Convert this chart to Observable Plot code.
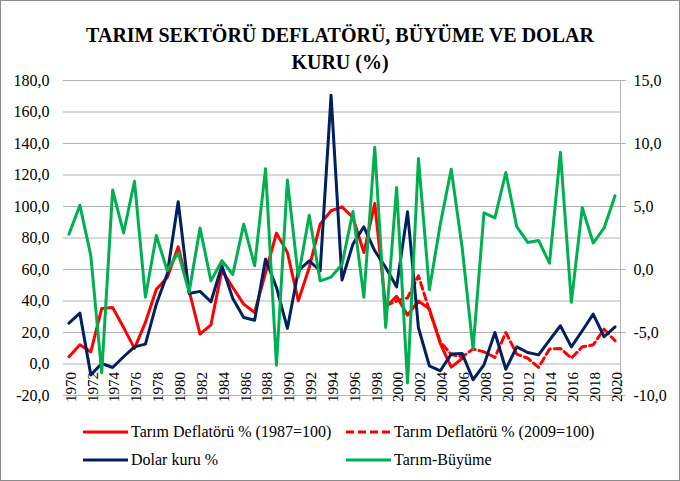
<!DOCTYPE html>
<html>
<head>
<meta charset="utf-8">
<script src="https://cdn.jsdelivr.net/npm/d3@7"></script>
<script src="https://cdn.jsdelivr.net/npm/@observablehq/plot@0.6"></script>
<style>
  html, body { margin: 0; padding: 0; background: #fff; }
  #wrap { position: relative; width: 680px; height: 481px; overflow: hidden; font-family: "Liberation Serif", Tinos, "Times New Roman", Times, "Nimbus Roman", "DejaVu Serif", serif; }
  #border { position: absolute; left: 0; top: 0; width: 680px; height: 481px; box-sizing: border-box; border: 1px solid #8c8c8c; pointer-events: none; }
  #title { height: 72px; box-sizing: border-box; padding-top: 22px; text-align: center; font-weight: bold; font-size: 20px; line-height: 27px; color: #000; }
  #chart svg { display: block; }
  #legend { position: relative; height: 76px; font-size: 16px; color: #000; }
  .item { position: absolute; height: 20px; line-height: 20px; white-space: nowrap; display: flex; align-items: center; }
  .item svg { margin-right: 3px; }
</style>
</head>
<body>
<div id="wrap">
  <div id="title">TARIM SEKTÖRÜ DEFLATÖRÜ, BÜYÜME VE DOLAR<br>KURU (%)</div>
  <div id="chart"></div>
  <div id="legend"></div>
  <div id="border"></div>
</div>
<script>
// ---- Data ----
const years = d3.range(1970, 2021);

const deflator1987Years = d3.range(1970, 2007);
const deflator1987 = [4.6, 12.2, 7.7, 35.3, 35.9, 23.2, 9.9, 26.4, 47.5, 54.9,
  74.4, 46.5, 19.0, 24.9, 59.6, 48.6, 38.0, 32.7, 58.0, 83.1,
  70.8, 40.1, 61.3, 88.8, 97.3, 99.8, 93.0, 70.8, 101.9, 36.0,
  43.0, 31.0, 40.0, 35.0, 13.0, -2.0, 3.5];

const deflator2009Years = d3.range(1999, 2021);
const deflator2009 = [37.0, 40.0, 42.0, 56.0, 34.0, 14.0, 6.0, 4.5, 9.5, 7.7,
  4.2, 20.0, 6.3, 3.7, -2.2, 9.5, 9.9, 3.7, 10.9, 12.2, 22.1, 14.7];

const dolarKuru = [25.9, 32.3, -6.9, 0.3, -2.2, 4.6, 10.9, 12.6, 38.0, 57.1,
  103.0, 44.8, 46.1, 39.5, 62.4, 41.6, 29.5, 27.8, 66.6, 48.6,
  22.6, 59.2, 65.5, 59.2, 170.7, 53.3, 76.1, 87.1, 71.9, 61.3,
  49.0, 96.6, 23.0, -1.2, -4.3, 6.3, 6.7, -10.0, -0.5, 20.0,
  -3.3, 10.9, 7.3, 5.8, 15.1, 24.3, 10.9, 21.1, 31.7, 17.3, 23.6];

// right axis (growth, %)
const tarimBuyume = [2.8, 5.1, 1.1, -8.2, 6.3, 2.9, 7.0, -2.2, 2.7, -0.1,
  1.35, -1.8, 3.3, -0.9, 0.7, -0.4, 3.6, 0.3, 8.0, -7.6,
  7.1, -0.6, 4.3, -0.9, -0.6, 0.4, 4.6, -2.2, 9.7, -4.6,
  6.5, -9.0, 8.8, -1.6, 3.6, 7.96, 1.75, -6.3, 4.5, 4.1,
  7.7, 3.4, 2.15, 2.3, 0.5, 9.3, -2.6, 4.9, 2.1, 3.3, 5.85];

const leftTicks = [-20, 0, 20, 40, 60, 80, 100, 120, 140, 160, 180];
const rightTicks = [-10, -5, 0, 5, 10, 15];
const yearLabels = d3.range(1970, 2021, 2);

const seriesNames = ["Tarım Deflatörü % (1987=100)", "Tarım Deflatörü % (2009=100)", "Dolar kuru %", "Tarım-Büyüme"];
const seriesColors = ["#FF0000", "#FF0000", "#002060", "#00B050"];

// ---- Dual-axis mapping: right = (left - 60) / 8 ----
const rightToLeft = r => 60 + 8 * r;
const leftToRight = l => (l - 60) / 8;
const fmt = v => v.toFixed(1).replace(".", ",");

const d1 = deflator1987Years.map((y, i) => ({year: y, v: deflator1987[i]}));
const d2 = deflator2009Years.map((y, i) => ({year: y, v: deflator2009[i]}));
const d3s = years.map((y, i) => ({year: y, v: dolarKuru[i]}));
const d4 = years.map((y, i) => ({year: y, v: rightToLeft(tarimBuyume[i])}));

const xDomain = [years[0] - 0.5, years[years.length - 1] + 0.5];
const gridColor = "#b3b3b3";
const serif = "'Liberation Serif', Tinos, 'Times New Roman', Times, 'Nimbus Roman', 'DejaVu Serif', serif";

const plot = Plot.plot({
  width: 680,
  height: 333,
  marginTop: 8,
  marginBottom: 10,
  marginLeft: 63,
  marginRight: 60,
  style: {fontFamily: serif, fontSize: "16px", color: "#000", background: "transparent"},
  x: {type: "linear", domain: xDomain, axis: null},
  y: {domain: [-20, 180], axis: null},
  marks: [
    Plot.gridY(leftTicks, {stroke: gridColor, strokeOpacity: 1, strokeWidth: 1}),
    Plot.ruleX([xDomain[1]], {stroke: gridColor, strokeWidth: 1}),
    Plot.axisY(leftTicks, {anchor: "left", label: null, tickSize: 0, tickPadding: 14, tickFormat: fmt, fontSize: 16, fontFamily: serif}),
    Plot.axisY(rightTicks.map(rightToLeft), {anchor: "right", label: null, tickSize: 5, tickPadding: 8, stroke: gridColor, tickFormat: v => fmt(leftToRight(v)), fontSize: 16, fontFamily: serif}),
    Plot.text(yearLabels, {x: d => d, y: d => 0, text: d => String(d), rotate: -90, textAnchor: "end", lineAnchor: "middle", dy: 8, dx: 2, fontSize: 15, fontFamily: serif, fill: "#000"}),
    Plot.line(d1, {x: "year", y: "v", stroke: seriesColors[0], strokeWidth: 3, strokeLinejoin: "round"}),
    Plot.line(d2, {x: "year", y: "v", stroke: seriesColors[1], strokeWidth: 3, strokeDasharray: "7,4", strokeLinejoin: "round"}),
    Plot.line(d3s, {x: "year", y: "v", stroke: seriesColors[2], strokeWidth: 3, strokeLinejoin: "round"}),
    Plot.line(d4, {x: "year", y: "v", stroke: seriesColors[3], strokeWidth: 3, strokeLinejoin: "round"})
  ]
});
document.getElementById("chart").appendChild(plot);

// ---- Legend ----
const legend = document.getElementById("legend");
const positions = [[83, 17], [346, 17], [83, 45], [346, 45]];
seriesNames.forEach((name, i) => {
  const item = document.createElement("div");
  item.className = "item";
  item.style.left = positions[i][0] + "px";
  item.style.top = positions[i][1] + "px";
  const dash = i === 1 ? ' stroke-dasharray="8,4"' : "";
  item.innerHTML = `<svg width="45" height="6"><line x1="0" y1="3" x2="45" y2="3" stroke="${seriesColors[i]}" stroke-width="3"${dash}/></svg><span>${name}</span>`;
  legend.appendChild(item);
});
</script>
</body>
</html>
